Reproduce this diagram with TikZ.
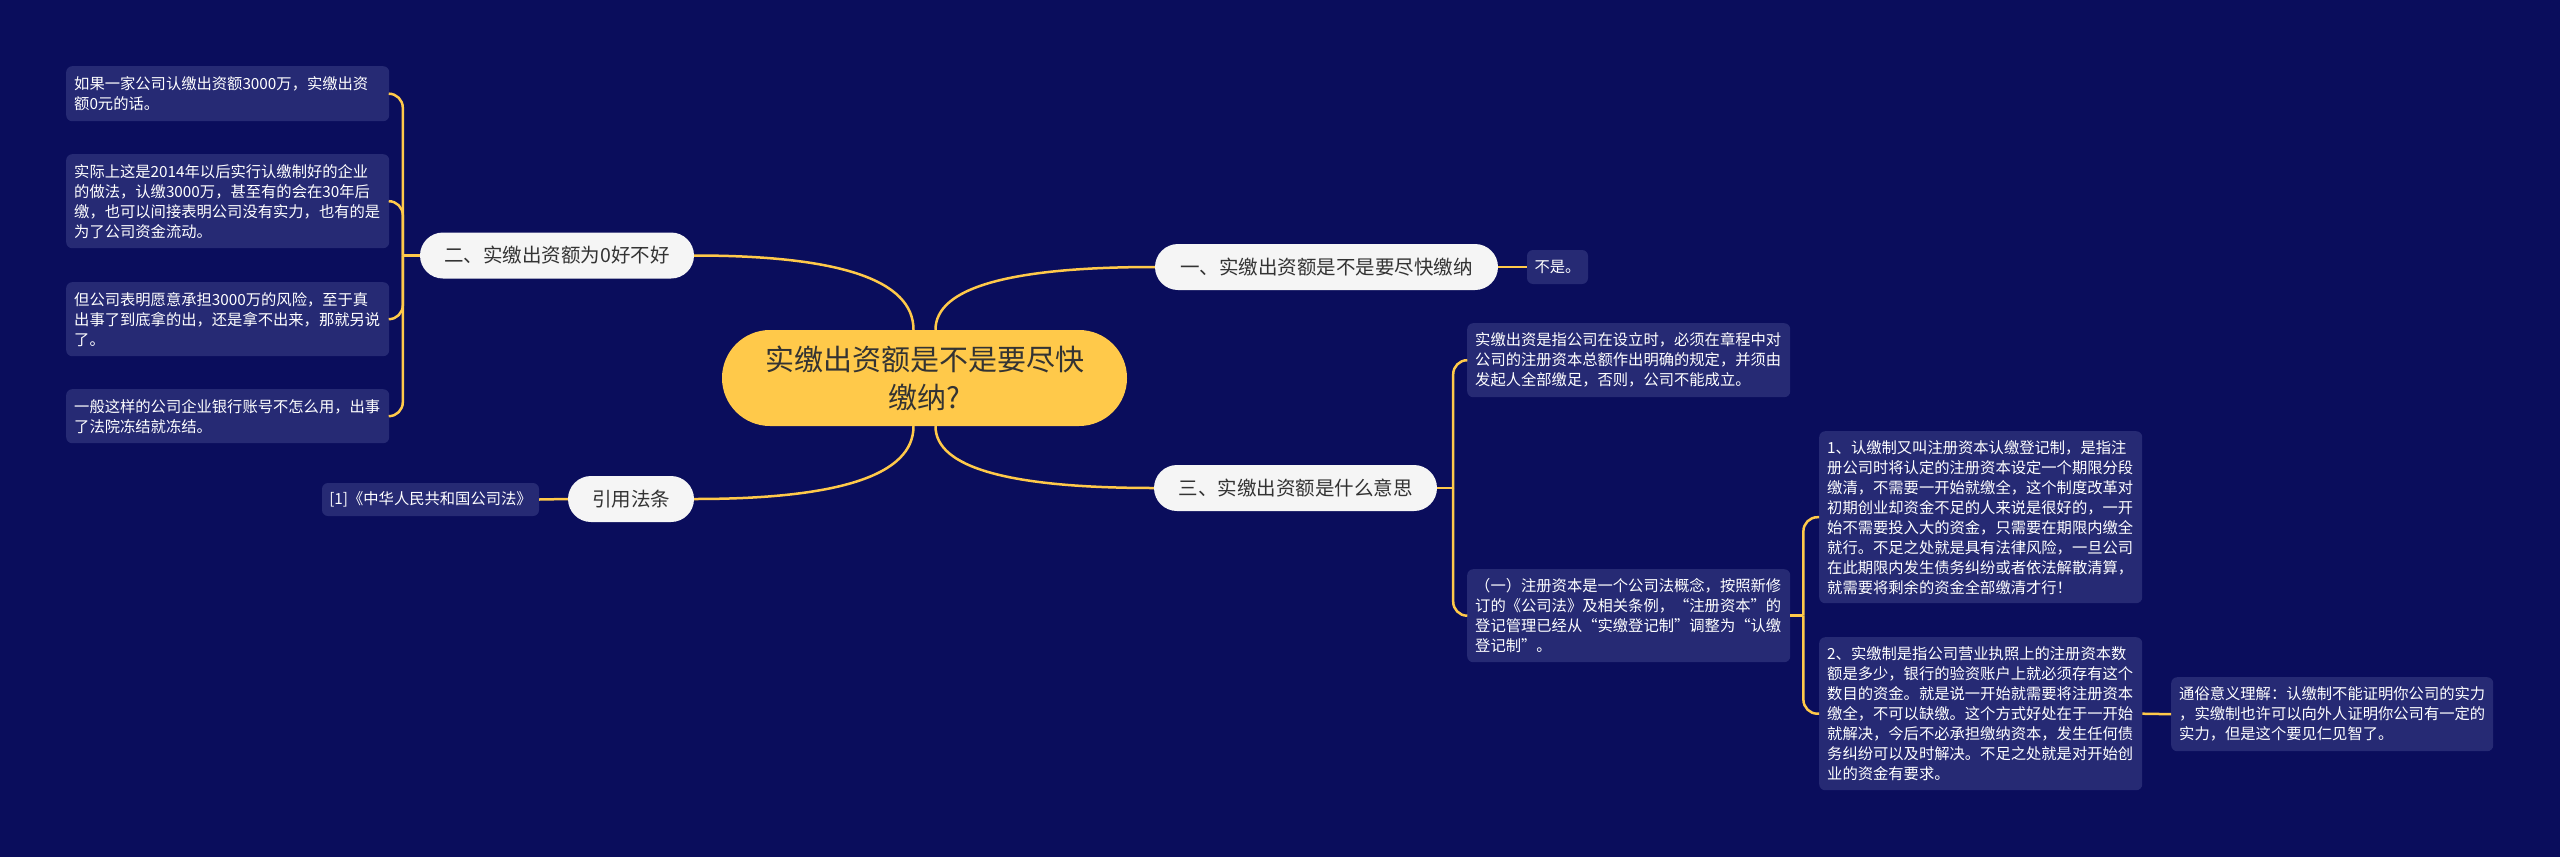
\documentclass[tikz,border=0pt]{standalone}
\usepackage{fontspec}
\setmainfont{Noto Sans CJK SC}
\usetikzlibrary{calc}
\definecolor{bg}{HTML}{0A0D5C}
\definecolor{leaf}{HTML}{262A74}
\definecolor{gold}{HTML}{FFC94A}
\definecolor{pill}{HTML}{F5F5F5}
\definecolor{ink}{HTML}{333333}
\begin{document}
\begin{tikzpicture}[x=1pt,y=-1pt,
  leafbox/.style={fill=leaf, rounded corners=6pt, text=white,
    font=\fontsize{15.3}{20}\selectfont, inner xsep=8pt, inner ysep=0pt,
    align=left, text width=307pt, anchor=north west},
  smallleaf/.style={fill=leaf, rounded corners=6pt, text=white,
    font=\fontsize{15.3}{20}\selectfont, inner sep=0pt, align=center},
  pillnode/.style={fill=pill, text=ink, font=\fontsize{19.5}{24}\selectfont,
    rounded corners=23pt, minimum height=46pt, inner sep=0pt},
  rootnode/.style={fill=gold, text=ink, font=\fontsize{29}{38}\selectfont,
    rounded corners=48pt, minimum height=96pt, minimum width=405pt,
    inner sep=0pt, align=center},
  conn/.style={draw=gold, line width=2.5pt},
  bracket/.style={conn, rounded corners=14pt}
]
\useasboundingbox (0,0) rectangle (2560,857);
\fill[bg] (0,0) rectangle (2560,857);

% central
\node[rootnode] (c) at (924.5,378) {实缴出资额是不是要尽快\\缴纳?};

% main branches
\node[pillnode, minimum width=343pt] (b1) at (1326.5,267) {一、实缴出资额是不是要尽快缴纳};
\node[pillnode, minimum width=274pt] (b2) at (557,255.5) {二、实缴出资额为0好不好};
\node[pillnode, minimum width=283pt] (b3) at (1295.5,488) {三、实缴出资额是什么意思};
\node[pillnode, minimum width=126pt] (b4) at (631,499) {引用法条};

% leaves of 一
\node[smallleaf, minimum width=61pt, minimum height=34pt] (n1) at (1557.5,267) {不是。};

% leaves of 二
\node[leafbox, minimum height=55pt] (L1) at (66,66) {如果一家公司认缴出资额3000万，实缴出资\\额0元的话。};
\node[leafbox, minimum height=94pt] (L2) at (66,154) {实际上这是2014年以后实行认缴制好的企业\\的做法，认缴3000万，甚至有的会在30年后\\缴，也可以间接表明公司没有实力，也有的是\\为了公司资金流动。};
\node[leafbox, minimum height=74pt] (L3) at (66,282) {但公司表明愿意承担3000万的风险，至于真\\出事了到底拿的出，还是拿不出来，那就另说\\了。};
\node[leafbox, minimum height=54pt] (L4) at (66,389) {一般这样的公司企业银行账号不怎么用，出事\\了法院冻结就冻结。};

% leaf of 引用法条
\node[smallleaf, minimum width=217pt, minimum height=33pt] (ref) at (430.5,499.5) {[1]《中华人民共和国公司法》};

% leaves of 三
\node[leafbox, minimum height=74pt] (R1) at (1467,323) {实缴出资是指公司在设立时，必须在章程中对\\公司的注册资本总额作出明确的规定，并须由\\发起人全部缴足，否则，公司不能成立。};
\node[leafbox, minimum height=93pt] (R2) at (1467,569) {（一）注册资本是一个公司法概念，按照新修\\订的《公司法》及相关条例，“注册资本”的\\登记管理已经从“实缴登记制”调整为“认缴\\登记制”。};
\node[leafbox, minimum height=172pt] (R3) at (1819,431) {1、认缴制又叫注册资本认缴登记制，是指注\\册公司时将认定的注册资本设定一个期限分段\\缴清，不需要一开始就缴全，这个制度改革对\\初期创业却资金不足的人来说是很好的，一开\\始不需要投入大的资金，只需要在期限内缴全\\就行。不足之处就是具有法律风险，一旦公司\\在此期限内发生债务纠纷或者依法解散清算，\\就需要将剩余的资金全部缴清才行！};
\node[leafbox, minimum height=153pt] (R4) at (1819,637) {2、实缴制是指公司营业执照上的注册资本数\\额是多少，银行的验资账户上就必须存有这个\\数目的资金。就是说一开始就需要将注册资本\\缴全，不可以缺缴。这个方式好处在于一开始\\就解决，今后不必承担缴纳资本，发生任何债\\务纠纷可以及时解决。不足之处就是对开始创\\业的资金有要求。};
\node[leafbox, minimum height=74pt, text width=306pt] (R5) at (2171,677) {通俗意义理解：认缴制不能证明你公司的实力\\，实缴制也许可以向外人证明你公司有一定的\\实力，但是这个要见仁见智了。};

% central connectors
\coordinate (cTL) at ($(c.north)+(-11,0)$);
\coordinate (cTR) at ($(c.north)+(11,0)$);
\coordinate (cBL) at ($(c.south)+(-11,0)$);
\coordinate (cBR) at ($(c.south)+(11,0)$);
\draw[conn] (cTL) .. controls ($(cTL)!0.667!(cTL|-b2.east)$) and ($(b2.east)!0.667!(cTL|-b2.east)$) .. (b2.east);
\draw[conn] (cTR) .. controls ($(cTR)!0.667!(cTR|-b1.west)$) and ($(b1.west)!0.667!(cTR|-b1.west)$) .. (b1.west);
\draw[conn] (cBL) .. controls ($(cBL)!0.667!(cBL|-b4.east)$) and ($(b4.east)!0.667!(cBL|-b4.east)$) .. (b4.east);
\draw[conn] (cBR) .. controls ($(cBR)!0.667!(cBR|-b3.west)$) and ($(b3.west)!0.667!(cBR|-b3.west)$) .. (b3.west);

% simple links
\draw[conn] (b1.east) -- (n1.west);
\draw[conn] (b4.west) -- (ref.east);
\draw[conn] (R4.east) -- (R5.west);

% bracket of 二
\coordinate (j2) at ($(b2.west)+(-17,0)$);
\draw[conn] (b2.west) -- (j2);
\foreach \t in {L1,L2,L3,L4} \draw[bracket] (j2) |- (\t.east);

% bracket of 三
\coordinate (j3) at ($(b3.east)+(16,0)$);
\draw[conn] (b3.east) -- (j3);
\foreach \t in {R1,R2} \draw[bracket] (j3) |- (\t.west);

% bracket of (一)
\coordinate (j4) at ($(R2.east)+(13,0)$);
\draw[conn] (R2.east) -- (j4);
\foreach \t in {R3,R4} \draw[bracket] (j4) |- (\t.west);
\end{tikzpicture}
\end{document}
